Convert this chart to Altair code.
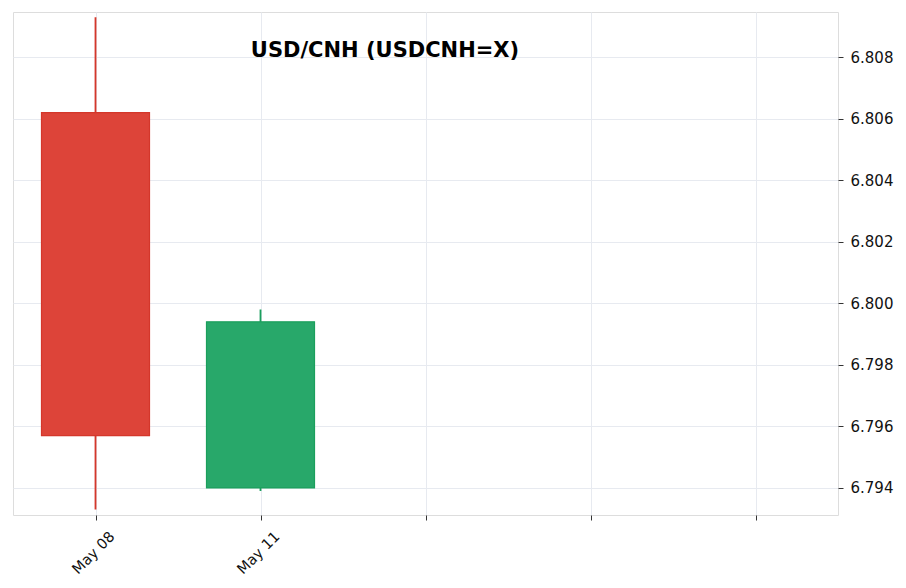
import altair as alt
import pandas as pd

# ---- data ----
dates = ["May 08", "May 11"]
opens = [6.8062, 6.7940]
highs = [6.8093, 6.7998]
lows = [6.7933, 6.7939]
closes = [6.7957, 6.7994]
x_ticks = [0, 1, 2, 3, 4]
y_ticks = [6.794, 6.796, 6.798, 6.800, 6.802, 6.804, 6.806, 6.808]
title_text = "USD/CNH (USDCNH=X)"

df = pd.DataFrame({
    "idx": list(range(len(dates))),
    "date": dates,
    "open": opens,
    "high": highs,
    "low": lows,
    "close": closes,
})
df["dir"] = ["up" if c >= o else "down" for o, c in zip(opens, closes)]

FONT = "DejaVu Sans"
GRID = "#e7eaf0"
UP_FILL, UP_EDGE = "#28a86a", "#1b9f5c"
DN_FILL, DN_EDGE = "#dd4439", "#d4372b"

label_expr = " : ".join(
    [f"datum.value == {i} ? '{d}'" for i, d in enumerate(dates)]
) + " : ''"

x_enc = alt.X(
    "idx:Q",
    scale=alt.Scale(domain=[-0.5, 4.5], nice=False, zero=False, padding=0),
    axis=alt.Axis(
        values=x_ticks, labelExpr=label_expr, title=None, grid=True,
        gridColor=GRID, domain=False, tickColor="#333", tickSize=5,
        labelAngle=-45, labelAlign="center", labelBaseline="middle",
        labelPadding=33, labelOffset=-2, labelFont=FONT, labelFontSize=14.5,
        labelColor="#111",
    ),
)
y_scale = alt.Scale(domain=[6.79312, 6.80947], nice=False, zero=False)
y_axis = alt.Axis(
    orient="right", values=y_ticks, format=".3f", title=None, grid=True,
    gridColor=GRID, domain=False, tickColor="#333", tickSize=5,
    labelPadding=7, labelFont=FONT, labelFontSize=15, labelColor="#111",
)

base = alt.Chart(df)

wicks = base.mark_rule(strokeWidth=1.8).encode(
    x=x_enc,
    y=alt.Y("low:Q", scale=y_scale, axis=y_axis),
    y2="high:Q",
    stroke=alt.Stroke("dir:N", scale=alt.Scale(domain=["up", "down"], range=[UP_EDGE, DN_EDGE]), legend=None),
)

bodies = base.mark_bar(size=108, strokeWidth=1.2).encode(
    x=x_enc,
    y=alt.Y("open:Q", scale=y_scale, axis=y_axis),
    y2="close:Q",
    fill=alt.Fill("dir:N", scale=alt.Scale(domain=["up", "down"], range=[UP_FILL, DN_FILL]), legend=None),
    stroke=alt.Stroke("dir:N", scale=alt.Scale(domain=["up", "down"], range=[UP_EDGE, DN_EDGE]), legend=None),
)

title = alt.Chart(pd.DataFrame({"t": [title_text]})).mark_text(
    font=FONT, fontSize=21, fontWeight="bold", color="#000",
    align="center", baseline="alphabetic",
).encode(x=alt.value(372), y=alt.value(45), text="t:N")

chart = alt.layer(wicks, bodies, title).properties(
    width=825,
    height=503,
    autosize=alt.AutoSizeParams(type="none"),
    padding={"left": 5, "top": 4, "right": 60, "bottom": 65},
).configure_view(stroke=GRID, strokeWidth=1.2).configure(background="white")

chart.save("out.html", embed_options={"renderer": "svg", "actions": False})
